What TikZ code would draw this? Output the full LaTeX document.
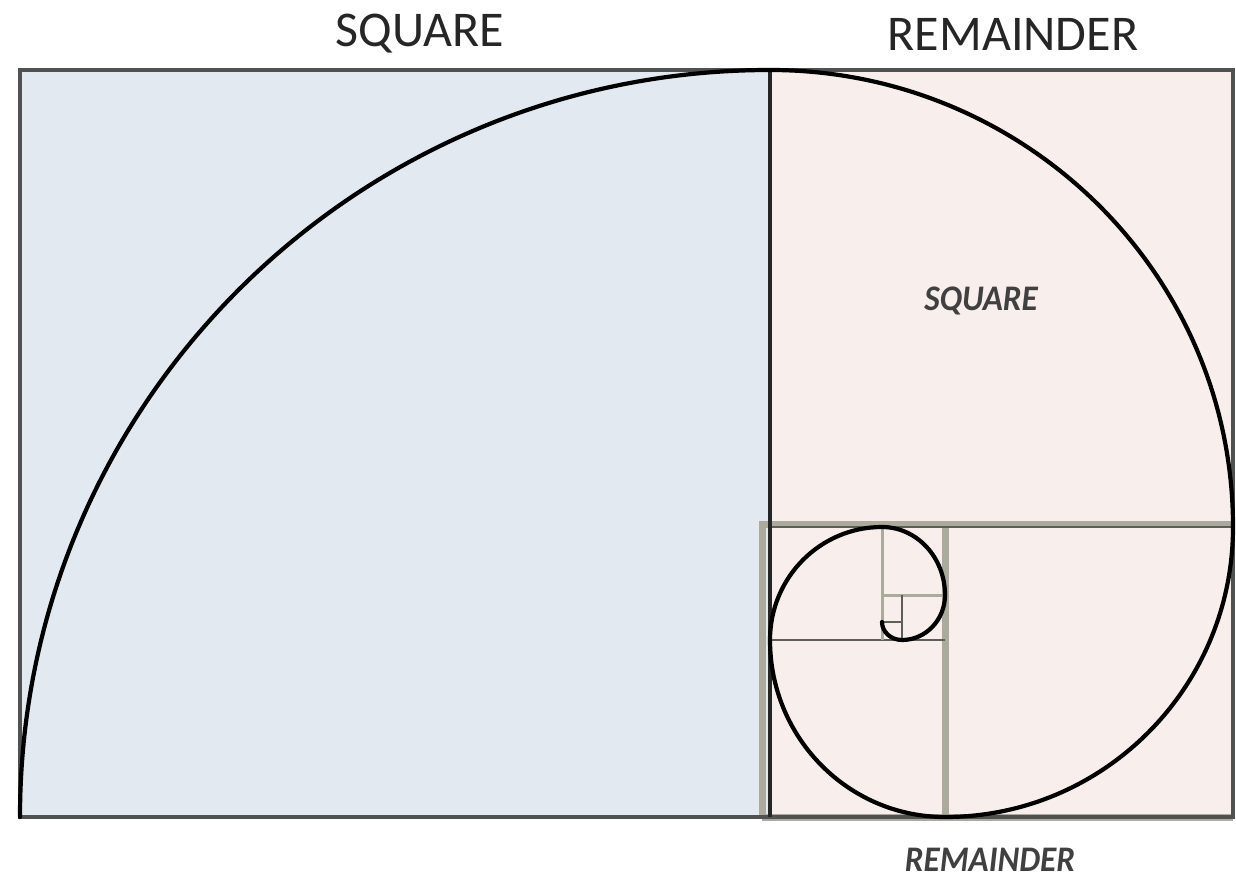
\documentclass[tikz,border=0pt]{standalone}
\usepackage{fontspec}
\setmainfont{Carlito}
\definecolor{sqblue}{HTML}{E3E9F1}
\definecolor{rempink}{HTML}{F8EEEC}
\definecolor{frame}{HTML}{4F5250}
\definecolor{band}{HTML}{ABAA9D}
\definecolor{thinln}{HTML}{5E5E58}
\tikzset{
  outline/.style={draw=frame, line width=3.5pt},
  spiral/.style={draw=black, line width=4.2pt, line cap=round},
  bandline/.style={draw=band, line width=7pt},
  fineline/.style={draw=thinln, line width=2.2pt},
  bigtitle/.style={font=\fontsize{50}{54}\selectfont, text=black!85},
  smalllabel/.style={font=\fontsize{36}{40}\selectfont\bfseries\itshape, text=black!75, xscale=0.92}
}
\begin{document}
\begin{tikzpicture}[x=1pt,y=1pt]
\useasboundingbox (0,0) rectangle (1236,879);
\fill[white] (0,0) rectangle (1236,879);
% fills
\fill[sqblue] (20,62) rectangle (770,809);
\fill[rempink] (770,62) rectangle (1233,809);
% key coordinates
\coordinate (A) at (20,62);
\coordinate (B) at (770,809);
\coordinate (C) at (1233,352);
\coordinate (D) at (945,62);
\coordinate (E) at (770,239);
\coordinate (F) at (882,352);
\coordinate (G) at (945,284);
\coordinate (H) at (902,239);
\coordinate (I) at (882,257);
% grey bands of the lower remainder
\draw[bandline] (762,62) -- (762,355) -- (1233,355);
\draw[bandline] (945,355) -- (945,62);
\draw[bandline] (762,62) -- (1233,62);
% inner fine lines
\draw[fineline] (770,352) -- (1233,352);
\draw[fineline] (E) -- (945,239);
\draw[fineline, draw=band, line width=3pt] (F) -- (882,239);
\draw[fineline, draw=band, line width=3pt] (882,284) -- (G);
\draw[fineline] (902,284) -- (H);
\draw[fineline] (I) -- (902,257);
% outer frame and main divider
\draw[outline] (20,62) rectangle (1233,809);
\draw[outline, draw=black!85] (770,809) -- (770,62);
% spiral
\draw[spiral] (A) arc[start angle=180, end angle=90, x radius=750, y radius=747]
  arc[start angle=90, end angle=0, x radius=463, y radius=457]
  arc[start angle=0, end angle=-90, x radius=288, y radius=290]
  arc[start angle=270, end angle=180, x radius=175, y radius=177]
  arc[start angle=180, end angle=90, x radius=112, y radius=113]
  arc[start angle=90, end angle=0, x radius=63, y radius=68]
  arc[start angle=0, end angle=-90, x radius=43, y radius=45]
  arc[start angle=270, end angle=180, x radius=20, y radius=18];
% labels
\node[bigtitle] (t1) at (420,845) {SQUARE};
\node[bigtitle] (t2) at (1013,845) {REMAINDER};
\node[smalllabel] (t3) at (981,578) {SQUARE};
\node[smalllabel] (t4) at (990,19) {REMAINDER};
\end{tikzpicture}
\end{document}
